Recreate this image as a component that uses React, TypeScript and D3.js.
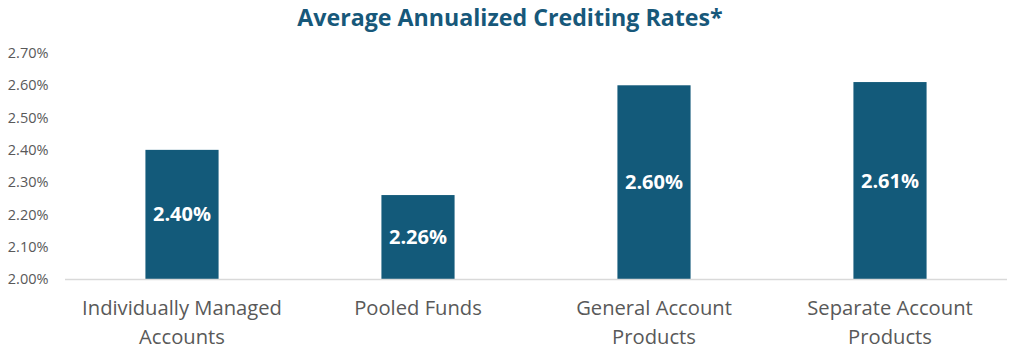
import React from "react";
import * as d3 from "d3";

const categories: string[][] = [
  ["Individually Managed", "Accounts"],
  ["Pooled Funds"],
  ["General Account", "Products"],
  ["Separate Account", "Products"],
];
const values: number[] = [2.4, 2.26, 2.6, 2.61];
const valueLabels: string[] = ["2.40%", "2.26%", "2.60%", "2.61%"];
const yTicks: number[] = [2.0, 2.1, 2.2, 2.3, 2.4, 2.5, 2.6, 2.7];
const title = "Average Annualized Crediting Rates*";

const W = 1024;
const H = 361;
const FONT = "'Open Sans', sans-serif";
const BAR = "#135a7a";
const GRAY = "#595959";

export default function App() {
  const x = d3
    .scaleBand<number>()
    .domain(values.map((_, i) => i))
    .range([64, 1008])
    .paddingInner(0.69)
    .paddingOuter(0.345);
  const y = d3.scaleLinear().domain([2.0, 2.7]).range([279, 53]);

  return (
    <div style={{ position: "absolute", left: 0, top: 0 }}>
      <svg width={W} height={H} style={{ display: "block", background: "#fff" }}>
        <text
          x={510}
          y={25.5}
          textAnchor="middle"
          fontFamily={FONT}
          fontWeight={700}
          fontSize={23.2}
          fill="#17587a"
        >
          {title}
        </text>
        {yTicks.map((t) => (
          <text
            key={t}
            x={48.5}
            y={y(t)}
            dy="0.35em"
            textAnchor="end"
            fontFamily={FONT}
            fontSize={14.5}
            fill={GRAY}
          >
            {d3.format(".2f")(t) + "%"}
          </text>
        ))}
        {values.map((v, i) => (
          <g key={i}>
            <rect
              x={x(i)}
              y={y(v)}
              width={x.bandwidth()}
              height={y(2.0) - y(v)}
              fill={BAR}
            />
            <text
              x={(x(i) as number) + x.bandwidth() / 2}
              y={(y(v) + y(2.0)) / 2}
              dy="0.35em"
              textAnchor="middle"
              fontFamily={FONT}
              fontWeight={700}
              fontSize={20}
              fill="#fff"
            >
              {valueLabels[i]}
            </text>
            {categories[i].map((line, j) => (
              <text
                key={j}
                x={(x(i) as number) + x.bandwidth() / 2}
                y={308 + j * 29}
                dy="0.35em"
                textAnchor="middle"
                fontFamily={FONT}
                fontSize={20.2}
                fill={GRAY}
              >
                {line}
              </text>
            ))}
          </g>
        ))}
        <line x1={65} x2={1007} y1={y(2.0) + 0.5} y2={y(2.0) + 0.5} stroke="#d9d9d9" strokeWidth={1.5} />
      </svg>
    </div>
  );
}
